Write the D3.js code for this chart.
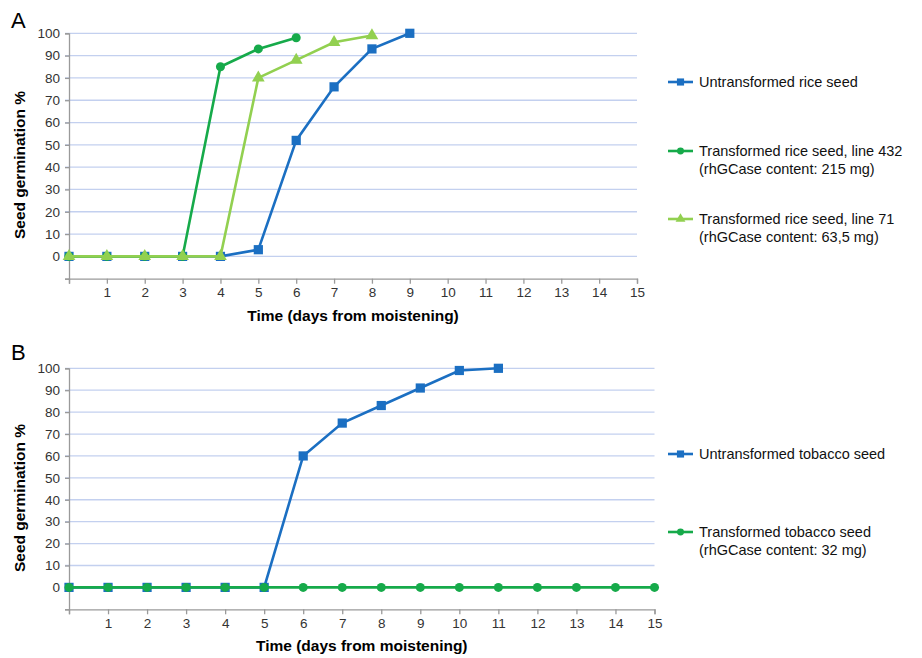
<!DOCTYPE html>
<html>
<head>
<meta charset="utf-8">
<script src="https://cdn.jsdelivr.net/npm/d3@7"></script>
<style>
  body { margin: 0; background: #fff; }
  svg { font-family: "Liberation Sans", Arial, sans-serif; }
</style>
</head>
<body>
<svg id="chart" width="922" height="658"></svg>
<script>
// Tick values
const xTicks = [0, 1, 2, 3, 4, 5, 6, 7, 8, 9, 10, 11, 12, 13, 14, 15];
const yTicks = [-10, 0, 10, 20, 30, 40, 50, 60, 70, 80, 90, 100];

// Panel A: rice, germination % by day (index = day)
const riceUntransformed = [0, 0, 0, 0, 0, 3, 52, 76, 93, 100];
const riceLine432 = [0, 0, 0, 0, 85, 93, 98];
const riceLine71 = [0, 0, 0, 0, 0, 80, 88, 96, 99];

// Panel B: tobacco
const tobaccoUntransformed = [0, 0, 0, 0, 0, 0, 60, 75, 83, 91, 99, 100];
const tobaccoTransformed = [0, 0, 0, 0, 0, 0, 0, 0, 0, 0, 0, 0, 0, 0, 0, 0];

const blue = "#1b6fc2", green = "#16aa4a", lightGreen = "#92d050";

const svg = d3.select("#chart");

// Draw one panel
function drawPanel(p) {
    const x = d3.scaleLinear().domain([0, 15]).range([p.left, p.right]);
    const y = d3.scaleLinear().domain([-10, 100]).range([p.bottom, p.top]);
    const g = svg.append("g");

    // Gridlines
    g.selectAll(".grid")
        .data(yTicks.filter(d => d >= 0))
        .enter().append("line")
        .attr("x1", p.left - 4).attr("x2", p.right)
        .attr("y1", d => y(d)).attr("y2", d => y(d))
        .attr("stroke", "#c3d0ef").attr("stroke-width", 1.3);

    // Axes
    const yAxis = g.append("g")
        .attr("transform", `translate(${p.left},0)`)
        .call(d3.axisLeft(y).tickValues(yTicks).tickSize(4).tickPadding(5)
            .tickFormat(d => d < 0 ? "" : d));
    const xAxis = g.append("g")
        .attr("transform", `translate(0,${p.bottom})`)
        .call(d3.axisBottom(x).tickValues(xTicks).tickSize(5).tickPadding(4)
            .tickFormat(d => d === 0 ? "" : d));
    [xAxis, yAxis].forEach(a => {
        a.select(".domain").attr("stroke", "#9a9a9a").attr("stroke-width", 1.3);
        a.selectAll(".tick line").attr("stroke", "#9a9a9a").attr("stroke-width", 1.3);
        a.selectAll(".tick text").attr("fill", "#333").style("font-size", "13.5px");
    });

    // Axis titles
    g.append("text")
        .attr("x", (p.left + p.right) / 2).attr("y", p.bottom + 42)
        .attr("text-anchor", "middle")
        .style("font-size", "15.5px").style("font-weight", "bold")
        .text("Time (days from moistening)");
    g.append("text")
        .attr("transform", `translate(25,${p.titleY}) rotate(-90)`)
        .attr("text-anchor", "middle")
        .style("font-size", "15.5px").style("font-weight", "bold")
        .text("Seed germination %");

    // Panel letter
    g.append("text")
        .attr("x", 11).attr("y", p.letterY)
        .style("font-size", "22px")
        .text(p.letter);

    const line = d3.line().x((d, i) => x(i)).y(d => y(d));

    p.series.forEach(s => {
        g.append("path")
            .datum(s.values)
            .attr("d", line)
            .attr("fill", "none")
            .attr("stroke", s.color)
            .attr("stroke-width", 2.6);
        g.selectAll(null)
            .data(s.values)
            .enter().append("path")
            .attr("transform", (d, i) => `translate(${x(i)},${y(d)})`)
            .attr("d", d3.symbol().type(s.symbol).size(s.size))
            .attr("fill", s.color);
    });

    // Legend
    p.series.forEach(s => {
        const lg = g.append("g").attr("transform", `translate(668,${s.legendY})`);
        lg.append("line").attr("x1", 0).attr("x2", 25)
            .attr("stroke", s.color).attr("stroke-width", 2.6);
        lg.append("path").attr("transform", "translate(12.5,0)")
            .attr("d", d3.symbol().type(s.symbol).size(s.size * 0.6))
            .attr("fill", s.color);
        lg.selectAll("text")
            .data(s.label)
            .enter().append("text")
            .attr("x", 31).attr("y", (d, i) => i * 18 + 5)
            .attr("fill", "#111")
            .style("font-size", "14.5px")
            .text(d => d);
    });
}

drawPanel({
    letter: "A", letterY: 28,
    left: 69, right: 637, top: 33.3, bottom: 278.7, titleY: 165,
    series: [
        { values: riceUntransformed, color: blue, symbol: d3.symbolSquare, size: 85, legendY: 82,
          label: ["Untransformed rice seed"] },
        { values: riceLine432, color: green, symbol: d3.symbolCircle, size: 64, legendY: 151,
          label: ["Transformed rice seed, line 432", "(rhGCase content: 215 mg)"] },
        { values: riceLine71, color: lightGreen, symbol: d3.symbolTriangle, size: 70, legendY: 219,
          label: ["Transformed rice seed, line 71", "(rhGCase content: 63,5 mg)"] }
    ]
});

drawPanel({
    letter: "B", letterY: 360,
    left: 69, right: 654.5, top: 368.3, bottom: 609.3, titleY: 498,
    series: [
        { values: tobaccoUntransformed, color: blue, symbol: d3.symbolSquare, size: 85, legendY: 454,
          label: ["Untransformed tobacco seed"] },
        { values: tobaccoTransformed, color: green, symbol: d3.symbolCircle, size: 64, legendY: 532,
          label: ["Transformed tobacco seed", "(rhGCase content: 32 mg)"] }
    ]
});
</script>
</body>
</html>
